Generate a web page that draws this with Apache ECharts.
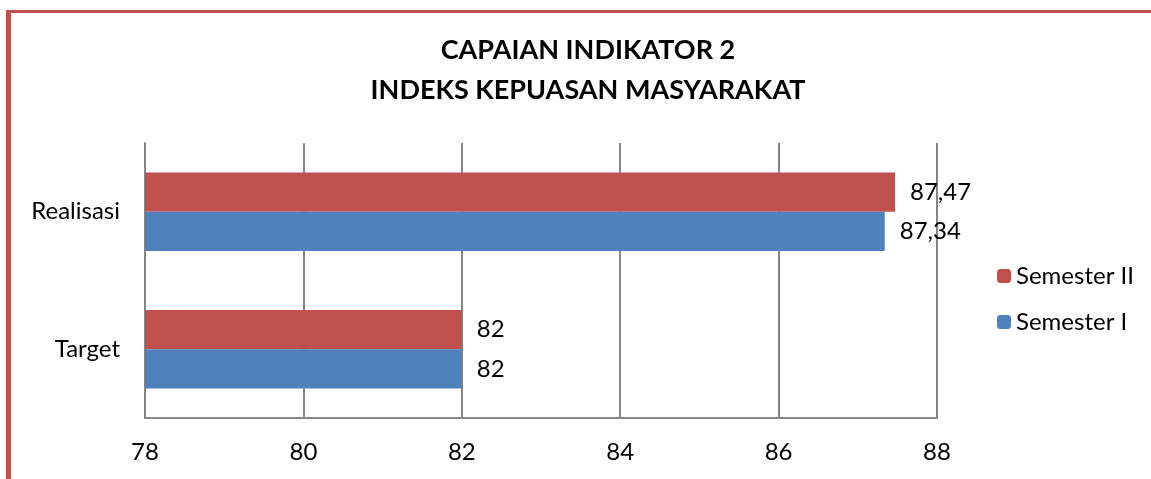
<!DOCTYPE html>
<html>
<head>
<meta charset="utf-8">
<script src="https://cdn.jsdelivr.net/npm/echarts@6/dist/echarts.min.js"></script>
<style>
  html, body { margin: 0; padding: 0; background: #fff; }
  #chart { width: 1151px; height: 479px; }
</style>
</head>
<body>
<div id="chart"></div>
<script>
// data
const categories = ["Target", "Realisasi"];
const semester1 = [82, 87.34];
const semester2 = [82, 87.47];
const xTicks = { min: 78, max: 88, step: 2 };

const fmt = (p) => String(p.value).replace(".", ",");

const chart = echarts.init(document.getElementById("chart"));

const option = {
  animation: false,
  textStyle: { fontFamily: "Lato" },
  title: {
    text: "CAPAIAN INDIKATOR 2\nINDEKS KEPUASAN MASYARAKAT",
    left: 588,
    top: 30,
    padding: 0,
    textAlign: "center",
    textStyle: {
      fontFamily: "Lato",
      fontSize: 27,
      fontWeight: "bold",
      color: "#000",
      lineHeight: 40,
    },
  },
  legend: {
    orient: "vertical",
    left: 992,
    top: 259,
    itemWidth: 14,
    itemHeight: 14,
    itemGap: 22,
    data: ["Semester II", "Semester I"],
    textStyle: { fontFamily: "Lato", fontSize: 24, color: "#000" },
  },
  grid: {
    left: 145,
    right: 214,
    top: 143,
    bottom: 61,
  },
  xAxis: {
    type: "value",
    min: xTicks.min,
    max: xTicks.max,
    interval: xTicks.step,
    axisLine: { show: true, lineStyle: { color: "#868686", width: 2 } },
    axisTick: { show: false },
    axisLabel: { fontSize: 24, color: "#000", margin: 22 },
    splitLine: { show: true, lineStyle: { color: "#868686", width: 2 } },
  },
  yAxis: {
    type: "category",
    data: categories,
    axisLine: { show: true, lineStyle: { color: "#868686", width: 2 } },
    axisTick: { show: false },
    axisLabel: { fontSize: 24, color: "#000", margin: 25 },
  },
  series: [
    {
      name: "Semester II",
      type: "bar",
      data: semester2,
      barGap: "0%",
      barCategoryGap: "43%",
      itemStyle: { color: "#c0504d" },
      label: { show: true, position: "right", distance: 15, fontSize: 24, color: "#000", formatter: fmt },
    },
    {
      name: "Semester I",
      type: "bar",
      data: semester1,
      barGap: "0%",
      barCategoryGap: "43%",
      itemStyle: { color: "#4f81bd" },
      label: { show: true, position: "right", distance: 15, fontSize: 24, color: "#000", formatter: fmt },
    },
  ],
  graphic: [
    { type: "rect", shape: { x: 6, y: 10, width: 5, height: 469 }, style: { fill: "#c0504d" } },
    { type: "rect", shape: { x: 6, y: 10, width: 1145, height: 3 }, style: { fill: "#c0504d" } },
  ],
};

chart.setOption(option);
window.addEventListener("resize", () => {
  chart.resize();
});
</script>
</body>
</html>
